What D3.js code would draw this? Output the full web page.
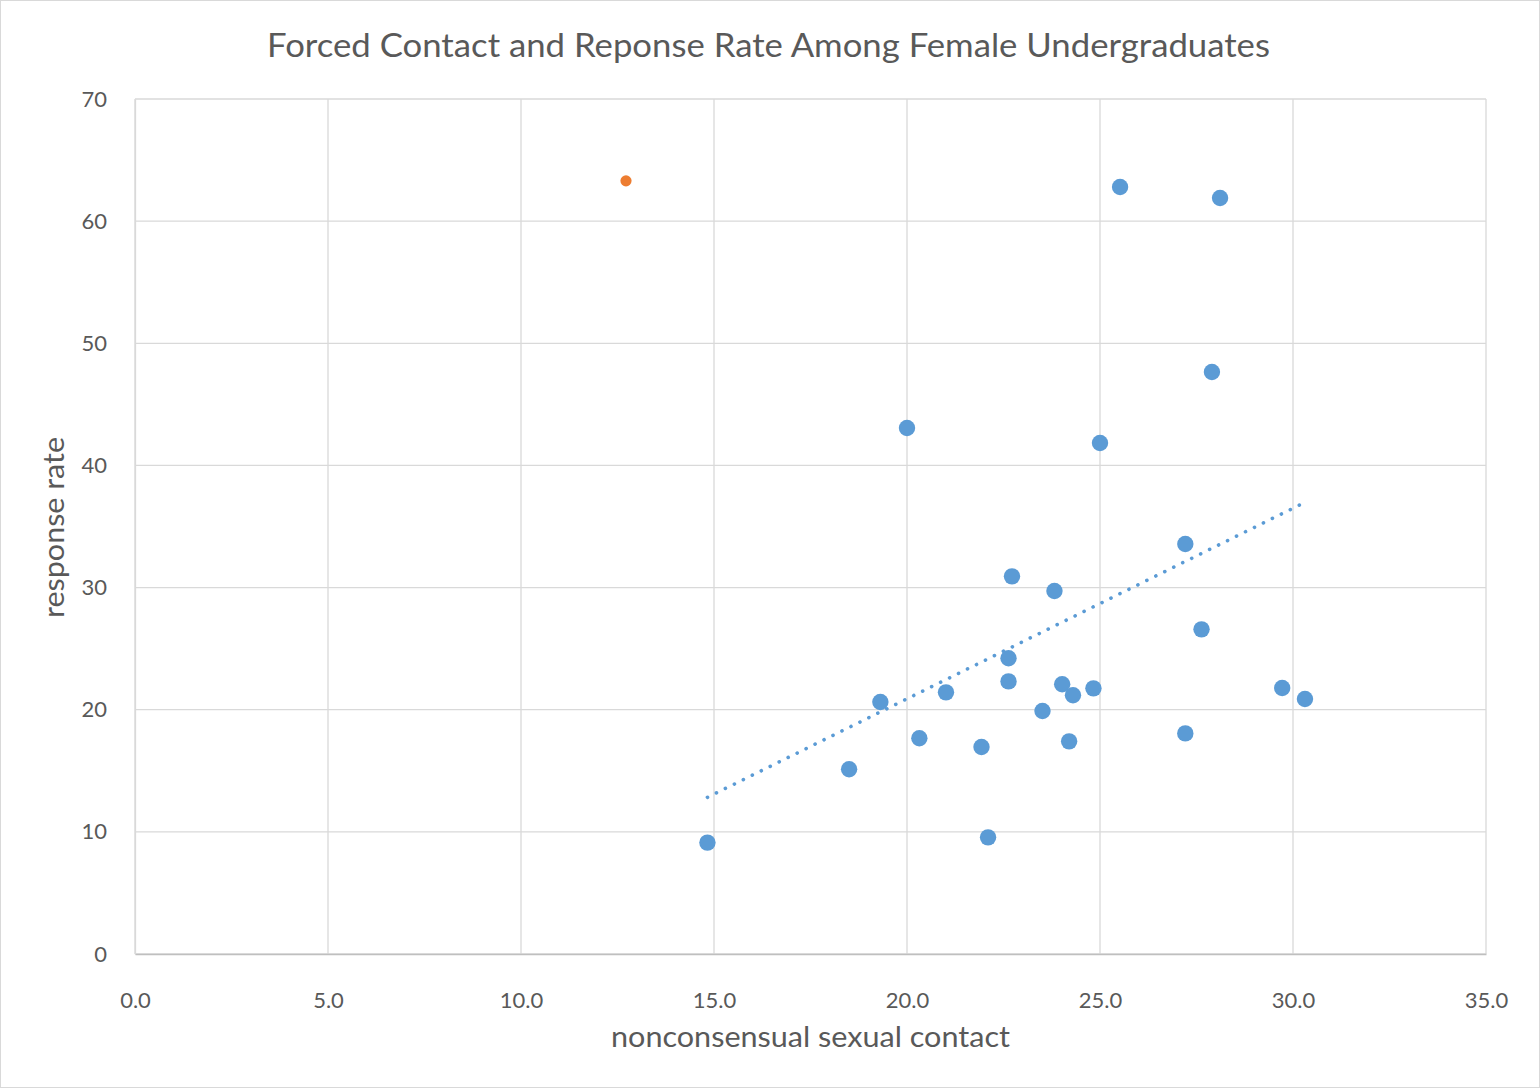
<!DOCTYPE html>
<html><head><meta charset="utf-8">
<script src="https://cdn.jsdelivr.net/npm/d3@7"></script>
<style>body{margin:0;background:#fff}text{font-family:Lato,"Open Sans",sans-serif;fill:#595959}</style>
</head><body><svg id="c" width="1540" height="1088"></svg>
<script>
const title = "Forced Contact and Reponse Rate Among Female Undergraduates";
const xLabel = "nonconsensual sexual contact";
const yLabel = "response rate";
const xTicks = [0,5,10,15,20,25,30,35];
const yTicks = [0,10,20,30,40,50,60,70];
const blueX = [14.83,18.50,19.31,20.32,21.01,21.93,22.10,22.63,22.63,22.72,23.51,23.82,24.02,24.20,24.30,24.83,27.21,27.21,27.63,29.72,30.31,20.00,25.00,27.90,25.52,28.11];
const blueY = [9.12,15.12,20.63,17.66,21.42,16.95,9.55,24.21,22.32,30.92,19.89,29.72,22.08,17.41,21.18,21.75,33.57,18.06,26.58,21.78,20.88,43.07,41.84,47.65,62.80,61.90];
const orangeX = [12.72];
const orangeY = [63.3];

const svg = d3.select("#c");
svg.append("rect").attr("x",0.5).attr("y",0.5).attr("width",1539).attr("height",1087).attr("fill","#fff").attr("stroke","#d9d9d9");
const L=135,R=1486,T=99,B=954;
const x = d3.scaleLinear().domain([0,35]).range([L,R]);
const y = d3.scaleLinear().domain([0,70]).range([B,T]);

// gridlines
svg.append("g").selectAll("line").data(xTicks).join("line")
  .attr("x1",d=>x(d)).attr("x2",d=>x(d)).attr("y1",T).attr("y2",B)
  .attr("stroke","#d9d9d9").attr("stroke-width",1.3);
svg.append("g").selectAll("line").data(yTicks).join("line")
  .attr("x1",L).attr("x2",R).attr("y1",d=>y(d)).attr("y2",d=>y(d))
  .attr("stroke","#d9d9d9").attr("stroke-width",1.3);

// axes
const xa = svg.append("g").attr("transform",`translate(0,${B})`)
  .call(d3.axisBottom(x).tickValues(xTicks).tickFormat(d3.format(".1f")).tickSize(0).tickPadding(38));
xa.select(".domain").attr("stroke","#bfbfbf").attr("stroke-width",1.5);
xa.selectAll("text").style("font-size","22px").attr("fill","#595959");
const ya = svg.append("g").attr("transform",`translate(${L},0)`)
  .call(d3.axisLeft(y).tickValues(yTicks).tickFormat(d3.format("d")).tickSize(0).tickPadding(28));
ya.select(".domain").attr("stroke","#d9d9d9").attr("stroke-width",1.3);
ya.selectAll("text").style("font-size","22px").attr("fill","#595959");

// trendline (least squares on blue series)
const n = blueX.length;
const mx = d3.mean(blueX), my = d3.mean(blueY);
let sxy=0,sxx=0;
for(let i=0;i<n;i++){sxy+=(blueX[i]-mx)*(blueY[i]-my);sxx+=(blueX[i]-mx)**2;}
const slope=sxy/sxx, icpt=my-slope*mx;
const x0=d3.min(blueX), x1=d3.max(blueX);
svg.append("line").attr("x1",x(x0)).attr("y1",y(icpt+slope*x0)).attr("x2",x(x1)).attr("y2",y(icpt+slope*x1))
  .attr("stroke","#5b9bd5").attr("stroke-width",3.6).attr("stroke-linecap","round").attr("stroke-dasharray","0.1 9.9");

// points
svg.append("g").selectAll("circle").data(d3.range(n)).join("circle")
  .attr("cx",i=>x(blueX[i])).attr("cy",i=>y(blueY[i])).attr("r",8.2).attr("fill","#5b9bd5");
svg.append("g").selectAll("circle").data(d3.range(orangeX.length)).join("circle")
  .attr("cx",i=>x(orangeX[i])).attr("cy",i=>y(orangeY[i])).attr("r",5.6).attr("fill","#ed7d31");

// titles
svg.append("text").attr("x",768.5).attr("y",57).attr("text-anchor","middle").style("font-size","33px")
  .attr("textLength",1003).attr("lengthAdjust","spacingAndGlyphs").text(title);
svg.append("text").attr("x",810.5).attr("y",1047).attr("text-anchor","middle").style("font-size","28px")
  .attr("textLength",399).attr("lengthAdjust","spacingAndGlyphs").text(xLabel);
svg.append("text").attr("transform","translate(64,527.5) rotate(-90)").attr("text-anchor","middle").style("font-size","28px")
  .attr("textLength",181).attr("lengthAdjust","spacingAndGlyphs").text(yLabel);
</script></body></html>
